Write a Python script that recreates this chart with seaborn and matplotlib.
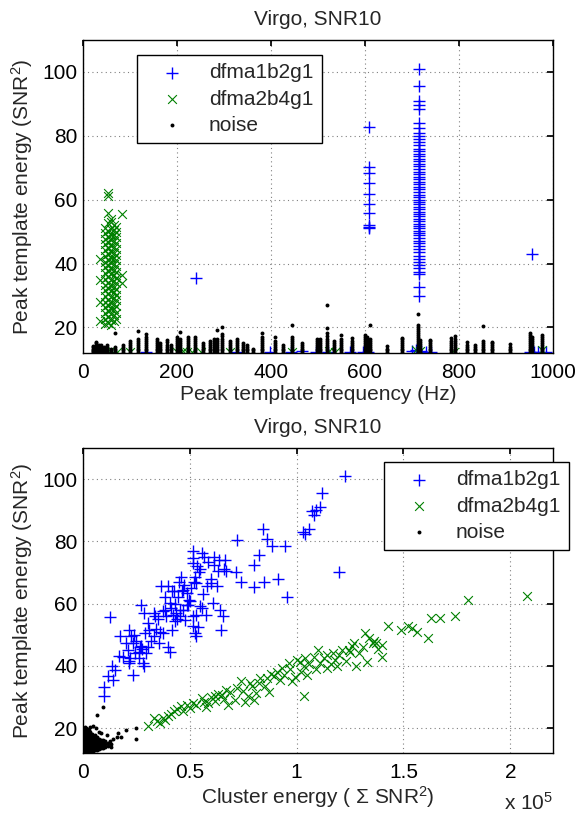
import matplotlib
matplotlib.use("Agg")
import matplotlib.pyplot as plt
import pandas as pd
import seaborn as sns
from matplotlib.ticker import FuncFormatter

# ---------------- data: top panel (frequency vs peak energy) ----------------
top_blue_col_freq = [714, 609, 239.5, 955]
top_blue_col_energy = [
    [30.0, 32.8, 36.8, 37.5, 38.5, 39.5, 40.5, 41.5, 42.5, 43.5, 44.5, 45.5, 46.5,
     47.2, 48.0, 48.8, 49.5, 50.2, 51.0, 51.8, 52.5, 53.3, 54.0, 54.8, 55.5, 56.3,
     57.0, 57.8, 58.5, 59.3, 60.0, 60.8, 61.6, 62.4, 63.2, 64.0, 64.8, 65.6, 66.4,
     67.2, 68.0, 68.8, 69.6, 70.4, 71.2, 72.0, 72.8, 73.6, 74.4, 75.2, 76.0, 77.0,
     78.0, 79.0, 80.0, 80.8, 82.5, 84.0, 88.3, 89.5, 90.8, 95.6, 101.0],
    [51.0, 51.6, 52.0, 55.9, 58.7, 61.8, 65.1, 68.3, 70.3, 82.8],
    [35.5],
    [43.0],
]
top_blue_low_freq = [50, 134, 327, 398, 442, 465, 495, 522, 568, 595, 606, 700,
                     708, 720, 730, 740, 951, 960, 968, 985]
top_blue_low_energy = [12.3, 12.2, 12.4, 12.3, 12.2, 12.5, 12.3, 12.2, 12.4, 12.3,
                       12.2, 12.6, 12.9, 12.7, 12.3, 12.2, 12.4, 12.3, 12.2, 12.3]

top_green_col_freq = [36, 47, 53, 59, 65, 70, 84]
top_green_col_energy = [
    [21.9, 28.1, 34.9, 41.4],
    [21.0, 22.8, 24.5, 26.3, 28.0, 29.9, 31.6, 33.4, 35.1, 37.0, 38.8, 40.5, 42.3,
     44.1, 46.0, 47.8, 49.5, 51.2],
    [21.5, 23.2, 25.1, 26.9, 28.7, 30.5, 32.2, 34.0, 35.9, 37.7, 39.4, 41.2, 43.0,
     44.8, 46.6, 48.4, 50.1, 52.6, 55.7, 61.3, 62.2],
    [20.8, 22.4, 24.1, 25.9, 27.6, 29.4, 31.3, 33.1, 34.8, 36.6, 38.3, 40.1, 41.9,
     43.7, 45.5, 47.3, 49.0, 50.8, 52.9, 54.0],
    [22.0, 23.9, 25.7, 27.4, 29.2, 31.0, 32.7, 34.5, 36.3, 38.1, 39.9, 41.7, 43.4,
     45.2, 47.0, 48.8, 50.4, 52.0],
    [22.5, 24.4, 26.6, 28.5, 30.3, 32.0, 33.8, 35.6, 37.4, 39.3, 41.0, 42.8, 44.6,
     46.4, 48.2, 49.9, 51.5],
    [34.0, 36.5, 55.5],
]
top_green_low_freq = [50, 60, 72, 100, 200, 212, 222, 232, 250, 313, 445, 524,
                      537, 708, 716, 790, 976]
top_green_low_energy = [12.4, 12.8, 12.3, 12.2, 12.3, 12.5, 12.2, 12.4, 12.3, 12.2,
                        12.3, 12.6, 12.2, 13.0, 12.5, 12.4, 12.9]

top_noise_col_freq = [22, 27, 33, 38, 44, 52, 60, 68, 86, 100, 116, 134, 157, 164,
                      178, 188, 199, 206, 224, 238, 256, 270, 279, 286, 295, 313,
                      327, 340, 348, 361, 381, 408, 426, 445, 465, 497, 505, 520,
                      534, 548, 572, 599, 604, 610, 646, 678, 712, 716, 738, 784,
                      791, 818, 834, 852, 870, 908, 951, 955, 976]
top_noise_col_energy = [
    [12.2, 12.6, 13.0, 13.4, 13.8, 14.2],
    [12.2, 12.7, 13.2, 13.8, 14.4, 15.0, 15.6],
    [12.2, 12.8, 13.4, 14.0, 14.6],
    [12.2, 12.7, 13.3, 13.9, 14.4],
    [12.2, 12.8, 13.4, 14.0],
    [12.2, 12.7, 13.3, 13.9, 14.5],
    [12.2, 12.8, 13.4],
    [12.2, 12.8, 13.4, 14.0, 18.3],
    [12.2, 12.8, 13.4, 14.0, 14.6],
    [12.2, 12.8, 13.4, 14.0, 14.6, 15.2, 15.8],
    [12.2, 12.8, 13.4, 14.0, 14.6, 15.2, 15.8, 16.3, 18.8],
    [12.2, 12.8, 13.4, 14.0, 14.6, 15.2, 15.8, 16.4, 17.0, 17.9],
    [12.2, 12.8, 13.4, 14.0, 14.6, 15.2, 15.8, 16.5],
    [12.2, 12.8, 13.4, 14.0, 14.6, 15.2],
    [12.2, 12.8, 13.4, 14.0, 14.6, 15.3, 16.0],
    [12.2, 12.8, 13.4, 14.0, 14.6],
    [12.2, 12.8, 13.4, 14.0, 14.6, 15.2, 15.8, 16.4, 17.0],
    [12.2, 12.8, 13.4, 14.0, 14.6, 15.2, 15.8, 16.4, 18.5],
    [12.2, 12.8, 13.4, 14.0, 14.6, 15.2, 15.8, 16.4, 17.0],
    [12.2, 12.8, 13.4, 14.0, 14.6, 15.2, 15.8, 16.4, 17.0],
    [12.2, 12.8, 13.4, 14.0, 14.6, 15.2],
    [12.2, 12.8, 13.4, 14.0, 14.6, 15.2, 15.8],
    [12.2, 12.8, 13.4, 14.0, 14.6, 15.2, 15.8, 16.4],
    [12.2, 12.8, 13.4, 14.0, 14.6, 15.2, 15.8, 16.4, 19.3],
    [12.2, 12.8, 13.4, 14.0, 14.6, 15.2, 15.8, 16.4, 17.2, 18.0, 20.0],
    [12.2, 12.8, 13.4, 14.0, 14.6, 15.2, 15.8],
    [12.2, 12.8, 13.4, 14.0, 14.6, 15.2, 15.8, 16.4],
    [12.2, 12.8, 13.4, 14.0, 14.6, 15.2],
    [12.2, 12.8, 13.4, 14.0, 14.6],
    [12.2, 12.8, 13.4],
    [12.2, 12.8, 13.4, 14.0, 14.6, 15.2, 15.8, 16.4, 17.0, 18.3],
    [12.2, 12.8, 13.4, 14.0, 14.6, 15.2, 15.8, 16.9],
    [12.2, 12.8, 13.4, 14.0, 14.6],
    [12.2, 12.8, 13.4, 14.0, 14.6, 15.2, 15.8, 16.4, 17.0, 20.8],
    [12.2, 12.8, 13.4, 14.0, 14.6, 15.2],
    [12.2, 12.8, 13.4, 14.0, 14.6, 15.2, 15.8, 16.4],
    [12.2, 12.8, 13.4, 14.0, 14.6, 15.2, 15.8, 16.4],
    [12.2, 12.8, 13.4, 14.0, 14.6, 15.2, 15.8, 16.4, 17.2, 18.3, 19.8, 27.0],
    [12.2, 12.8, 13.4, 14.0, 14.6, 15.2, 15.8],
    [12.2, 12.8, 13.4, 14.0, 14.6, 15.2, 15.8, 16.4, 17.7],
    [12.2, 12.8, 13.4, 14.0, 14.6, 15.2, 15.8, 16.7],
    [12.2, 12.8, 13.4, 14.0, 14.6, 15.2, 15.8, 16.4, 17.0, 17.7],
    [12.2, 12.8, 13.4, 14.0, 14.6, 15.2, 15.8, 16.4, 17.0],
    [12.2, 12.8, 13.4, 14.0, 14.6, 15.2, 15.8, 16.4, 20.8],
    [12.2, 12.8, 13.4, 14.1],
    [12.2, 12.8, 13.4, 14.0, 14.6, 15.2, 15.8, 16.4, 16.7],
    [12.2, 12.8, 13.4, 14.0, 14.6, 15.2, 15.8, 16.4, 17.0, 17.6, 18.2, 18.8, 19.4,
     20.0, 20.8, 24.2],
    [12.4, 13.0, 13.6, 14.2, 14.8, 15.4, 16.0],
    [12.2, 12.8, 13.4, 14.0, 14.6, 15.2, 15.8, 16.2],
    [12.2, 12.8, 13.4, 14.0, 14.6, 15.2, 15.8, 16.7],
    [12.2, 12.8, 13.4, 14.0, 14.6, 15.2, 15.8, 16.4, 17.4],
    [12.2, 12.8, 13.4, 14.0, 14.6, 15.3],
    [12.2, 12.8, 13.4, 14.0, 14.6],
    [12.2, 12.8, 13.4, 14.0, 14.6, 15.2, 15.8, 20.3],
    [12.2, 12.8, 13.4, 14.0, 14.6, 15.2, 15.6],
    [12.2, 12.8, 13.4, 14.0, 14.8],
    [12.2, 12.8, 13.4, 14.0, 14.6, 15.2, 15.8, 16.4, 17.0, 17.6, 18.3],
    [12.2, 12.8, 13.4, 14.0, 14.6, 15.2, 15.8, 16.4, 17.0],
    [12.2, 12.8, 13.4, 14.0, 14.6, 15.2, 15.8, 16.4, 17.0, 17.7],
]

# ---------------- data: bottom panel (cluster energy vs peak energy) ----------------
bot_blue_cluster = [
    122600, 111800, 110800, 108000, 107000, 109000, 106000, 104000, 103000, 84300,
    86000, 88700, 94400, 72200, 82600, 80000, 84700, 91300, 80000, 73900,
    95700, 120000, 71700, 66600, 66100, 61400, 55700, 51300, 51300, 54800,
    52200, 53000, 60000, 62600, 60900, 64300, 64800, 65600, 57400, 51300,
    52700, 48700, 47000, 46000, 42600, 40000, 36500, 40900, 38300, 33900,
    30400, 27000, 28700, 21700, 17400, 20000, 23500, 27000, 26000, 20900,
    22000, 21700, 28700, 23500, 12500, 16900, 13400, 14800, 11700, 9600,
    9600, 13900, 35700, 33000, 37400, 41700, 40000, 40900, 45200, 47800,
    43500, 49600, 54800, 51300, 31000, 29000, 33000, 35000, 37500, 39000,
    41000, 42000, 43000, 44500, 46500, 47500, 48500, 50000, 49000, 47000,
    45500, 44000, 43000, 38500, 41500, 45000, 50500, 52000, 53500, 54500,
    51500, 56500, 58500, 61500, 63000, 63500, 67000, 60000, 58000, 56000,
    55500, 53000, 54000, 52500, 36000, 34000, 32000, 30500, 29500, 25000,
    24000, 22500, 26500, 27500, 18500, 21500, 24500, 26000, 28000, 200,
    500, 300]
bot_blue_energy = [
    101.0, 95.5, 91.0, 88.5, 89.6, 90.2, 84.0, 82.4, 83.0, 84.0,
    80.7, 78.6, 78.4, 80.3, 75.5, 72.5, 67.0, 68.0, 65.2, 66.8,
    62.0, 70.0, 70.0, 74.0, 71.0, 75.0, 76.4, 76.8, 73.0, 71.0,
    68.7, 66.6, 66.6, 65.5, 60.2, 58.0, 51.6, 55.9, 56.4, 52.7,
    49.5, 59.6, 64.5, 68.7, 63.9, 65.5, 65.5, 60.2, 58.0, 55.9,
    53.7, 59.6, 57.0, 51.6, 49.5, 47.3, 47.3, 46.3, 44.6, 45.2,
    42.5, 40.9, 40.0, 37.1, 55.7, 43.3, 39.8, 38.8, 36.6, 33.2,
    30.2, 35.6, 47.3, 49.5, 50.5, 51.6, 46.2, 44.6, 58.0, 54.8,
    57.0, 61.2, 59.1, 55.9, 51.5, 50.5, 57.0, 55.0, 57.5, 56.0,
    58.5, 56.5, 60.0, 62.0, 64.0, 66.0, 63.5, 61.0, 59.5, 58.0,
    56.0, 55.0, 54.5, 62.0, 64.0, 67.0, 65.0, 67.0, 72.0, 70.0,
    74.5, 75.0, 73.5, 72.5, 70.5, 74.0, 70.5, 68.0, 65.5, 63.0,
    58.5, 56.5, 52.5, 50.5, 50.8, 52.0, 48.0, 46.0, 44.0, 48.0,
    50.0, 49.5, 46.0, 45.5, 43.0, 41.5, 44.0, 42.5, 41.0, 12.3,
    12.5, 12.8]

bot_green_cluster = [
    208000, 180000, 174000, 167000, 163000, 161700, 156500, 154000, 152000, 148700,
    142600, 140000, 140000, 135700, 134000, 132000, 133000, 128000, 127000, 124300,
    121000, 117000, 114000, 110000, 114000, 103500, 103500, 101700, 100000, 96500,
    93000, 89600, 86000, 82600, 81000, 79000, 77400, 73900, 71300, 67000,
    65200, 61700, 58300, 55700, 51300, 48700, 46000, 42600, 40000, 37400,
    34800, 33000, 30400, 36000, 38500, 41000, 44000, 47000, 50000, 53000,
    56500, 60000, 63000, 66000, 69000, 72000, 75000, 78000, 80000, 83000,
    85000, 88000, 91000, 94000, 97000, 99000, 102000, 104000, 106000, 108000,
    111000, 113000, 116000, 118000, 120000, 123000, 125000, 126000, 129000, 131000,
    136000, 138000, 137000, 98000, 92000, 87000, 76000, 68000, 62000, 57500,
    105000, 109000, 119000, 400, 900, 600]
bot_green_energy = [
    62.3, 61.2, 55.9, 55.4, 55.4, 49.0, 51.0, 52.1, 52.7, 51.6,
    52.9, 46.8, 43.0, 47.3, 48.9, 50.5, 41.4, 39.8, 47.3, 45.2,
    45.2, 44.1, 43.6, 45.2, 39.3, 30.2, 39.8, 41.4, 42.0, 40.9,
    39.3, 36.6, 36.1, 34.5, 31.3, 33.4, 30.2, 35.0, 29.1, 32.3,
    30.7, 30.2, 28.1, 29.7, 28.1, 27.5, 27.0, 25.4, 23.8, 23.2,
    22.2, 23.2, 20.6, 21.5, 22.5, 24.5, 26.0, 25.5, 26.5, 27.5,
    28.5, 30.0, 31.0, 29.5, 31.5, 33.0, 32.0, 34.5, 29.0, 36.0,
    33.5, 37.5, 38.0, 37.0, 39.0, 36.5, 38.0, 42.5, 40.5, 43.0,
    41.0, 42.5, 40.5, 42.0, 43.5, 41.5, 44.5, 46.5, 44.0, 46.0,
    48.0, 45.5, 47.5, 35.0, 35.5, 31.5, 28.5, 27.5, 28.8, 26.8,
    37.0, 39.0, 40.0, 12.2, 12.4, 12.9]

bot_noise_col_cluster = [300, 800, 1400, 2000, 2700, 3400, 4100, 4900, 5700, 6500,
                         7400, 8300, 9300, 10500, 11800, 13000]
bot_noise_col_energy = [
    [12.2, 12.8, 13.5, 14.2, 15.0, 15.8, 16.6, 17.4, 18.2, 19.0],
    [12.3, 13.0, 13.8, 14.6, 15.4, 16.2, 17.0, 17.8, 18.6, 19.4, 20.2],
    [12.2, 12.9, 13.6, 14.4, 15.2, 16.0, 16.8, 17.6, 18.4, 19.2, 20.0],
    [12.4, 13.1, 13.9, 14.7, 15.5, 16.3, 17.1, 17.9, 18.8, 19.6],
    [12.3, 13.0, 13.8, 14.5, 15.3, 16.1, 16.9, 17.7, 18.6, 19.5],
    [12.5, 13.2, 14.0, 14.8, 15.6, 16.4, 17.2, 18.0, 18.9],
    [12.6, 13.3, 14.1, 14.9, 15.7, 16.5, 17.3, 18.2],
    [12.8, 13.5, 14.3, 15.1, 15.9, 16.7, 17.6],
    [13.0, 13.7, 14.5, 15.3, 16.1, 17.0, 17.9],
    [13.1, 13.9, 14.7, 15.5, 16.4, 17.3],
    [13.3, 14.1, 14.9, 15.8, 16.6],
    [13.5, 14.3, 15.2, 16.1],
    [13.7, 14.6, 15.5, 16.3],
    [13.9, 14.8, 15.7],
    [14.2, 15.1],
    [14.0, 14.8],
]
bot_noise_sparse_cluster = [3300, 4800, 6000, 6700, 9500, 11000, 14000, 15700, 16500,
                            18000, 20000, 25000, 25000, 12500, 8500, 7500]
bot_noise_sparse_energy = [20.5, 20.8, 19.9, 24.2, 26.7, 17.8, 16.6, 17.2, 18.4,
                           17.0, 19.3, 19.9, 16.5, 15.9, 18.5, 18.8]

series_labels = ["dfma1b2g1", "dfma2b4g1", "noise"]
series_colors = ["#0000ff", "#008000", "#000000"]
title_text = "Virgo, SNR10"
ylabel_text = "Peak template energy (SNR$^\\mathregular{2}$)"
top_xlabel_text = "Peak template frequency (Hz)"
bot_xlabel_text = "Cluster energy ( \u03a3 SNR$^\\mathregular{2}$)"
top_xticks = [0, 200, 400, 600, 800, 1000]
bot_xticks = [0, 50000, 100000, 150000, 200000]
yticks = [20, 40, 60, 80, 100]


def flatten(col_x, col_e):
    xs, es = [], []
    for x, vals in zip(col_x, col_e):
        for v in vals:
            xs.append(x)
            es.append(v)
    return xs, es


bx, be = flatten(top_blue_col_freq, top_blue_col_energy)
top_blue = pd.DataFrame({"x": bx + top_blue_low_freq, "y": be + top_blue_low_energy})
gx, ge = flatten(top_green_col_freq, top_green_col_energy)
top_green = pd.DataFrame({"x": gx + top_green_low_freq, "y": ge + top_green_low_energy})
nx, ne = flatten(top_noise_col_freq, top_noise_col_energy)
top_noise = pd.DataFrame({"x": nx, "y": ne})

bot_blue = pd.DataFrame({"x": bot_blue_cluster, "y": bot_blue_energy})
bot_green = pd.DataFrame({"x": bot_green_cluster, "y": bot_green_energy})
mx, me = flatten(bot_noise_col_cluster, bot_noise_col_energy)
bot_noise = pd.DataFrame({"x": mx + bot_noise_sparse_cluster,
                          "y": me + bot_noise_sparse_energy})

# ---------------- styling ----------------
sns.set_theme(style="white")
plt.rcParams["font.family"] = ["Liberation Sans", "DejaVu Sans"]
plt.rcParams["mathtext.fontset"] = "custom"
plt.rcParams["mathtext.rm"] = "Liberation Sans"
plt.rcParams["mathtext.it"] = "Liberation Sans:italic"
plt.rcParams["axes.edgecolor"] = "black"
plt.rcParams["axes.linewidth"] = 1.0

FS = 15
W, H = 581, 819
fig = plt.figure(figsize=(W / 100, H / 100), dpi=100)
ax1 = fig.add_axes([83 / W, 1 - 353 / H, 470 / W, 313 / H])
ax2 = fig.add_axes([83 / W, 1 - 753 / H, 470 / W, 305 / H])


def draw(ax, blue, green, noise):
    sns.scatterplot(data=blue, x="x", y="y", ax=ax, marker="+", s=70,
                    color=series_colors[0], linewidth=1.0, label=series_labels[0])
    sns.scatterplot(data=green, x="x", y="y", ax=ax, marker="x", s=40,
                    color=series_colors[1], linewidth=0.8, label=series_labels[1])
    sns.scatterplot(data=noise, x="x", y="y", ax=ax, marker="o", s=8,
                    color=series_colors[2], linewidth=0, label=series_labels[2])


def style(ax):
    ax.set_ylim(12, 110)
    ax.set_yticks(yticks)
    ax.grid(True, linestyle=(0, (1, 3)), color="0.5", linewidth=0.8)
    ax.set_axisbelow(True)
    ax.tick_params(direction="in", length=4, top=True, right=True,
                   labelsize=FS, color="black", labelcolor="black")
    ax.tick_params(axis="x", pad=7)
    ax.tick_params(axis="y", pad=4)
    for sp in ax.spines.values():
        sp.set_color("black")
        sp.set_linewidth(1.0)
    ax.set_ylabel(ylabel_text, fontsize=FS, labelpad=5)
    ax.set_title(title_text, fontsize=FS, pad=11)


def legend(ax, x0, y0):
    leg = ax.legend(loc="upper left", bbox_to_anchor=(x0 / W, 1 - y0 / H),
                    bbox_transform=fig.transFigure, borderaxespad=0,
                    fontsize=FS, frameon=True, fancybox=False, framealpha=1,
                    edgecolor="black", handlelength=2.6, handletextpad=0.45,
                    borderpad=0.4, labelspacing=0.35, scatterpoints=1)
    leg.get_frame().set_linewidth(1.0)


draw(ax1, top_blue, top_green, top_noise)
style(ax1)
ax1.set_xlim(0, 1000)
ax1.set_xticks(top_xticks)
ax1.set_xlabel(top_xlabel_text, fontsize=FS, labelpad=2)
legend(ax1, 137, 55)

draw(ax2, bot_blue, bot_green, bot_noise)
style(ax2)
ax2.set_xlim(0, 220000)
ax2.set_xticks(bot_xticks)
ax2.xaxis.set_major_formatter(FuncFormatter(lambda v, p: f"{v / 1e5:g}"))
ax2.set_xlabel(bot_xlabel_text, fontsize=FS, labelpad=2)
legend(ax2, 384, 462)
fig.text(553 / W, 1 - 810 / H, "x 10$^\\mathregular{5}$", ha="right", va="baseline",
         fontsize=FS)

fig.savefig("out.png", dpi=100)
